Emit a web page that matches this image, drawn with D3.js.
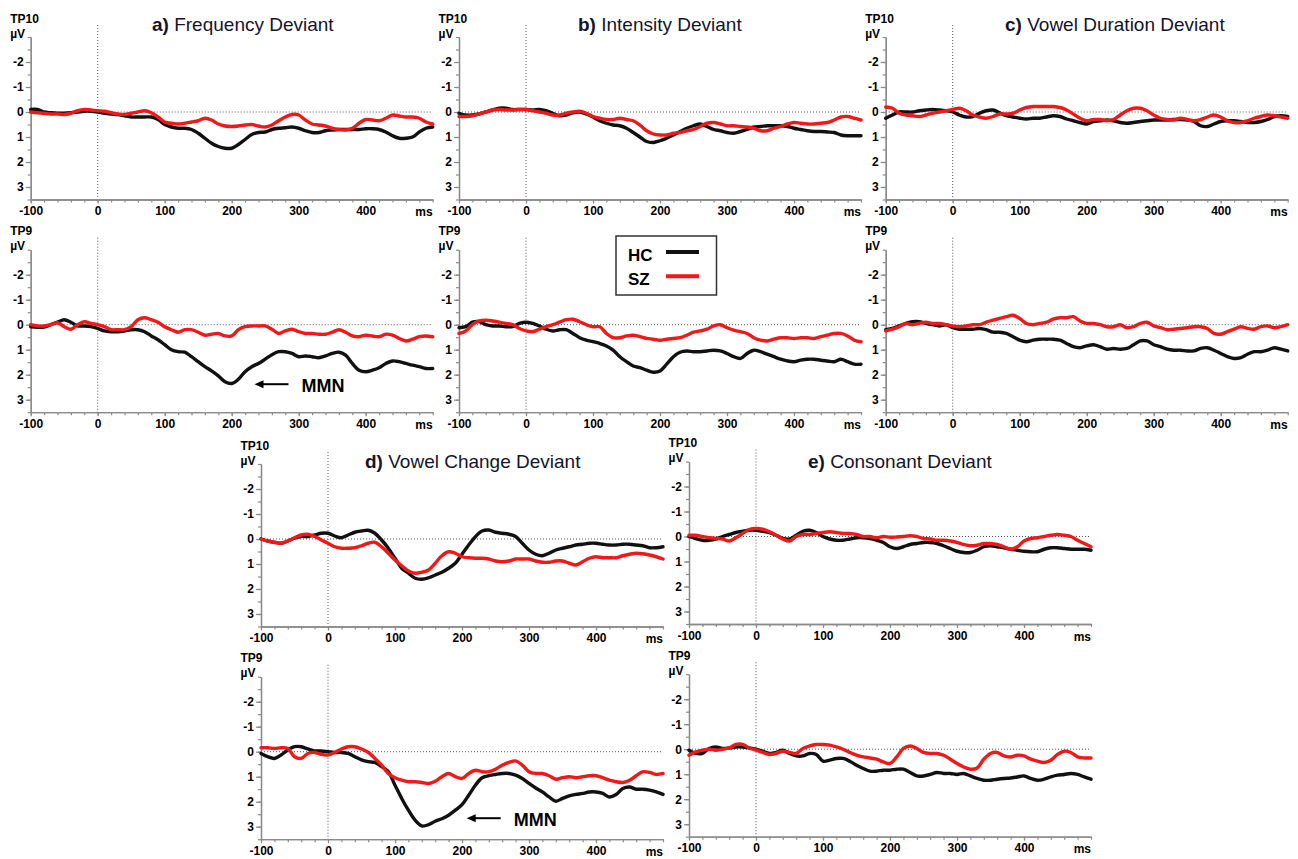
<!DOCTYPE html>
<html>
<head>
<meta charset="utf-8">
<script src="https://cdn.jsdelivr.net/npm/d3@7"></script>
<style>
    body { margin: 0; background: #fff; }
    svg { display: block; font-family: Arial, "Liberation Sans", sans-serif; }
</style>
</head>
<body>
<svg id="chart" width="1298" height="859"></svg>
<script>
// time points (ms) of every sample
const times = [-100, -90, -80, -70, -60, -50, -40, -30, -20, -10,
    0, 10, 20, 30, 40, 50, 60, 70, 80, 90,
    100, 110, 120, 130, 140, 150, 160, 170, 180, 190,
    200, 210, 220, 230, 240, 250, 260, 270, 280, 290,
    300, 310, 320, 330, 340, 350, 360, 370, 380, 390,
    400, 410, 420, 430, 440, 450, 460, 470, 480, 490, 500];

const xTicks = [-100, 0, 100, 200, 300, 400];
const yTicks = [-2, -1, 0, 1, 2, 3];
const groups = ["HC", "SZ"];
const electrodes = ["TP10", "TP9"];
const conditions = [
    {letter: "a)", name: "Frequency Deviant"},
    {letter: "b)", name: "Intensity Deviant"},
    {letter: "c)", name: "Vowel Duration Deviant"},
    {letter: "d)", name: "Vowel Change Deviant"},
    {letter: "e)", name: "Consonant Deviant"}
];

// a) frequency
const freqTP10HC = [-0.1, -0.1, 0, 0.03, 0.05, 0.05, 0.03, 0, -0.03, -0.03,
    0, 0.05, 0.08, 0.1, 0.15, 0.2, 0.2, 0.2, 0.2, 0.3,
    0.5, 0.6, 0.65, 0.65, 0.7, 0.85, 1.05, 1.25, 1.38, 1.45,
    1.45, 1.3, 1.1, 0.9, 0.82, 0.8, 0.7, 0.65, 0.63, 0.6,
    0.65, 0.75, 0.82, 0.82, 0.75, 0.72, 0.7, 0.7, 0.7, 0.7,
    0.67, 0.67, 0.7, 0.8, 0.95, 1.05, 1.05, 1.0, 0.8, 0.65, 0.6];
const freqTP10SZ = [0, 0.03, 0.05, 0.08, 0.08, 0.1, 0.05, -0.05, -0.1, -0.08,
    -0.05, -0.03, 0.03, 0.08, 0.1, 0.05, 0, -0.05, 0.03, 0.2,
    0.4, 0.45, 0.48, 0.45, 0.4, 0.35, 0.25, 0.32, 0.48, 0.56,
    0.58, 0.56, 0.52, 0.5, 0.56, 0.6, 0.52, 0.35, 0.2, 0.1,
    0.12, 0.32, 0.48, 0.52, 0.56, 0.65, 0.7, 0.72, 0.65, 0.45,
    0.3, 0.32, 0.35, 0.25, 0.12, 0.16, 0.2, 0.2, 0.25, 0.4, 0.48];
const freqTP9HC = [0.08, 0.1, 0.1, 0, -0.1, -0.2, -0.1, 0.05, 0.05, 0.08,
    0.15, 0.25, 0.28, 0.28, 0.25, 0.2, 0.2, 0.28, 0.45, 0.6,
    0.8, 1.0, 1.08, 1.1, 1.28, 1.48, 1.68, 1.85, 2.05, 2.28,
    2.35, 2.18, 1.88, 1.68, 1.55, 1.38, 1.2, 1.08, 1.08, 1.15,
    1.28, 1.25, 1.28, 1.32, 1.25, 1.15, 1.1, 1.22, 1.55, 1.82,
    1.88, 1.82, 1.72, 1.55, 1.45, 1.48, 1.55, 1.62, 1.68, 1.75, 1.75];
const freqTP9SZ = [0, 0.05, 0.05, 0, -0.08, 0.08, 0.18, 0, -0.12, -0.05,
    0, 0.08, 0.2, 0.2, 0.2, 0.08, -0.2, -0.28, -0.2, -0.1,
    0.08, 0.2, 0.3, 0.2, 0.2, 0.3, 0.42, 0.38, 0.35, 0.45,
    0.45, 0.2, 0.08, 0.05, 0.05, 0.05, 0.18, 0.35, 0.25, 0.18,
    0.28, 0.35, 0.35, 0.38, 0.38, 0.3, 0.2, 0.3, 0.45, 0.48,
    0.42, 0.45, 0.48, 0.38, 0.42, 0.55, 0.65, 0.58, 0.48, 0.45, 0.48];

// b) intensity
const intTP10HC = [0.05, 0.12, 0.12, 0.08, 0, -0.08, -0.15, -0.15, -0.1, -0.1,
    -0.1, -0.08, -0.1, -0.05, 0.05, 0.15, 0.12, 0.03, 0, 0.08,
    0.2, 0.35, 0.45, 0.52, 0.55, 0.65, 0.82, 1.0, 1.18, 1.22,
    1.15, 1.05, 0.92, 0.78, 0.65, 0.55, 0.48, 0.58, 0.7, 0.75,
    0.82, 0.85, 0.78, 0.7, 0.6, 0.58, 0.55, 0.55, 0.55, 0.58,
    0.65, 0.7, 0.75, 0.78, 0.78, 0.8, 0.82, 0.92, 0.95, 0.95, 0.95];
const intTP10SZ = [0.18, 0.18, 0.15, 0.08, 0, -0.08, -0.1, -0.08, -0.08, -0.1,
    -0.1, -0.05, 0, 0.05, 0.12, 0.12, 0.05, 0, -0.03, 0.05,
    0.18, 0.25, 0.3, 0.3, 0.25, 0.3, 0.35, 0.52, 0.75, 0.88,
    0.92, 0.92, 0.85, 0.82, 0.75, 0.7, 0.58, 0.45, 0.42, 0.48,
    0.55, 0.55, 0.58, 0.6, 0.65, 0.75, 0.75, 0.65, 0.58, 0.48,
    0.42, 0.45, 0.48, 0.48, 0.45, 0.42, 0.32, 0.2, 0.18, 0.25, 0.32];
const intTP9HC = [0.12, 0.08, -0.1, -0.12, 0, 0.05, 0.05, 0.08, 0.08, -0.05,
    -0.1, -0.05, 0.05, 0.18, 0.25, 0.2, 0.2, 0.35, 0.52, 0.62,
    0.68, 0.75, 0.85, 1.02, 1.28, 1.48, 1.65, 1.72, 1.82, 1.9,
    1.85, 1.58, 1.28, 1.1, 1.05, 1.08, 1.08, 1.05, 1.02, 1.05,
    1.15, 1.28, 1.35, 1.15, 1.02, 1.08, 1.18, 1.28, 1.38, 1.45,
    1.48, 1.42, 1.38, 1.38, 1.42, 1.45, 1.48, 1.38, 1.48, 1.58, 1.58];
const intTP9SZ = [0.35, 0.25, 0, -0.15, -0.18, -0.15, -0.1, -0.05, 0, 0.15,
    0.25, 0.28, 0.18, 0.08, 0, -0.1, -0.2, -0.22, -0.12, 0,
    0.08, 0.08, 0.35, 0.52, 0.52, 0.45, 0.42, 0.48, 0.55, 0.58,
    0.62, 0.58, 0.55, 0.52, 0.42, 0.3, 0.25, 0.18, 0.05, 0,
    0.12, 0.22, 0.28, 0.35, 0.52, 0.62, 0.65, 0.58, 0.52, 0.52,
    0.55, 0.52, 0.52, 0.55, 0.48, 0.42, 0.35, 0.35, 0.45, 0.62, 0.68];

// c) vowel duration
const durTP10HC = [0.25, 0.12, 0, 0, 0, -0.05, -0.08, -0.1, -0.08, -0.05,
    0, 0.12, 0.2, 0.18, 0.05, -0.05, -0.08, 0.03, 0.15, 0.2,
    0.25, 0.28, 0.25, 0.25, 0.2, 0.15, 0.18, 0.28, 0.35, 0.42,
    0.48, 0.38, 0.35, 0.32, 0.35, 0.42, 0.45, 0.42, 0.38, 0.35,
    0.32, 0.32, 0.32, 0.3, 0.3, 0.32, 0.38, 0.55, 0.58, 0.48,
    0.38, 0.35, 0.35, 0.38, 0.42, 0.42, 0.38, 0.3, 0.18, 0.15, 0.18];
const durTP10SZ = [-0.2, -0.15, 0.05, 0.12, 0.15, 0.18, 0.12, 0.05, 0, -0.05,
    -0.1, -0.15, -0.05, 0.12, 0.2, 0.25, 0.18, 0.08, 0.08, 0.05,
    -0.08, -0.18, -0.22, -0.22, -0.22, -0.22, -0.18, -0.08, 0.08, 0.25,
    0.35, 0.3, 0.3, 0.35, 0.3, 0.12, -0.05, -0.15, -0.15, -0.05,
    0.12, 0.25, 0.3, 0.32, 0.25, 0.3, 0.35, 0.3, 0.2, 0.12,
    0.2, 0.35, 0.42, 0.42, 0.35, 0.25, 0.18, 0.12, 0.15, 0.2, 0.25];
const durTP9HC = [0.2, 0.15, 0.05, -0.05, -0.12, -0.12, -0.05, 0, 0.05, 0,
    0.12, 0.18, 0.18, 0.18, 0.15, 0.2, 0.3, 0.3, 0.35, 0.48,
    0.62, 0.68, 0.62, 0.58, 0.58, 0.58, 0.62, 0.75, 0.88, 0.92,
    0.85, 0.8, 0.88, 0.98, 0.95, 0.98, 0.95, 0.8, 0.65, 0.65,
    0.8, 0.88, 0.98, 1.02, 1.02, 1.05, 1.05, 0.95, 0.92, 1.02,
    1.15, 1.28, 1.35, 1.32, 1.18, 1.08, 1.08, 1.02, 0.92, 0.98, 1.05];
const durTP9SZ = [0.25, 0.18, 0.08, -0.05, 0, -0.05, -0.1, -0.05, -0.05, 0,
    0.05, 0.08, 0.05, 0, 0, -0.1, -0.18, -0.25, -0.32, -0.38,
    -0.25, -0.05, 0, -0.05, -0.1, -0.22, -0.28, -0.28, -0.32, -0.15,
    -0.05, -0.05, 0, 0.08, 0.08, 0, 0.12, 0.08, -0.05, -0.1,
    0.05, 0.12, 0.2, 0.18, 0.15, 0.12, 0.08, 0.08, 0.15, 0.35,
    0.38, 0.28, 0.18, 0.08, 0.15, 0.18, 0.08, 0.05, 0.12, 0.08, 0];

// d) vowel change
const vowTP10HC = [0, 0.08, 0.13, 0.17, 0.08, -0.03, -0.1, -0.1, -0.16, -0.23,
    -0.23, -0.12, -0.05, -0.16, -0.27, -0.32, -0.35, -0.23, 0.04, 0.37,
    0.77, 1.17, 1.37, 1.57, 1.61, 1.55, 1.44, 1.33, 1.17, 0.97,
    0.61, 0.24, -0.09, -0.32, -0.36, -0.27, -0.23, -0.19, -0.1, 0.17,
    0.44, 0.61, 0.67, 0.57, 0.44, 0.37, 0.31, 0.24, 0.21, 0.17,
    0.17, 0.21, 0.24, 0.24, 0.21, 0.21, 0.24, 0.27, 0.35, 0.35, 0.31];
const vowTP10SZ = [0, 0.08, 0.13, 0.17, 0.08, -0.05, -0.16, -0.19, -0.1, 0.04,
    0.17, 0.31, 0.37, 0.37, 0.35, 0.27, 0.17, 0.13, 0.31, 0.57,
    0.84, 1.07, 1.28, 1.37, 1.33, 1.24, 0.97, 0.67, 0.51, 0.57,
    0.71, 0.75, 0.77, 0.77, 0.8, 0.88, 0.91, 0.88, 0.8, 0.8,
    0.8, 0.88, 0.93, 0.93, 0.88, 0.88, 0.97, 1.04, 0.91, 0.77,
    0.71, 0.75, 0.75, 0.75, 0.67, 0.61, 0.57, 0.59, 0.64, 0.71, 0.8];
const vowTP9HC = [0.07, 0.2, 0.27, 0.13, -0.07, -0.2, -0.2, -0.11, -0.03, -0.03,
    0, 0.03, 0.03, 0.07, 0.2, 0.33, 0.4, 0.43, 0.6, 0.8,
    1.34, 1.87, 2.34, 2.74, 2.97, 2.92, 2.78, 2.68, 2.54, 2.34,
    2.12, 1.74, 1.34, 1.04, 0.96, 0.91, 0.87, 0.87, 0.94, 1.07,
    1.27, 1.45, 1.61, 1.81, 1.98, 1.87, 1.77, 1.71, 1.67, 1.61,
    1.61, 1.67, 1.81, 1.71, 1.47, 1.41, 1.5, 1.5, 1.54, 1.61, 1.71];
const vowTP9SZ = [-0.16, -0.16, -0.13, -0.16, -0.13, 0.2, 0.27, 0.07, 0.03, 0.11,
    0.13, 0.03, -0.11, -0.2, -0.2, -0.11, 0.03, 0.27, 0.54, 0.87,
    1.04, 1.14, 1.2, 1.2, 1.23, 1.27, 1.18, 1.0, 0.87, 1.0,
    1.07, 0.87, 0.74, 0.8, 0.8, 0.7, 0.54, 0.43, 0.37, 0.54,
    0.8, 0.87, 0.87, 0.96, 1.1, 1.04, 1.0, 1.04, 1.0, 0.96,
    0.96, 1.04, 1.14, 1.2, 1.23, 1.14, 0.96, 0.8, 0.83, 0.91, 0.87];

// e) consonant
const consTP10HC = [0, 0.08, 0.15, 0.15, 0.1, 0, -0.08, -0.16, -0.21, -0.25,
    -0.25, -0.21, -0.16, -0.05, 0.08, 0.1, -0.05, -0.21, -0.25, -0.16,
    0, 0.1, 0.15, 0.15, 0.1, 0.05, 0.05, 0.08, 0.15, 0.24,
    0.41, 0.48, 0.41, 0.32, 0.28, 0.24, 0.24, 0.28, 0.37, 0.48,
    0.59, 0.64, 0.64, 0.55, 0.41, 0.37, 0.41, 0.45, 0.51, 0.55,
    0.59, 0.61, 0.61, 0.51, 0.45, 0.45, 0.48, 0.51, 0.51, 0.51, 0.55];
const consTP10SZ = [-0.05, -0.05, 0, 0.05, 0.08, 0.1, 0.18, 0.05, -0.12, -0.28,
    -0.32, -0.29, -0.19, -0.05, 0.1, 0.18, 0, -0.08, -0.08, -0.12,
    -0.16, -0.19, -0.16, -0.12, -0.12, -0.08, 0, 0, 0.05, 0,
    0.03, 0.02, 0, -0.03, 0, 0.08, 0.1, 0.15, 0.15, 0.18,
    0.24, 0.32, 0.37, 0.35, 0.28, 0.28, 0.32, 0.41, 0.51, 0.41,
    0.18, 0.08, 0.05, 0, -0.05, -0.08, -0.05, 0, 0.15, 0.28, 0.41];
const consTP9HC = [0.04, 0.17, 0.17, -0.03, -0.09, -0.03, -0.05, -0.09, -0.09, -0.05,
    0, 0.08, 0.17, 0.13, 0.04, 0.17, 0.27, 0.27, 0.17, 0.21,
    0.48, 0.44, 0.37, 0.37, 0.48, 0.64, 0.77, 0.88, 0.88, 0.84,
    0.84, 0.8, 0.8, 0.93, 1.07, 1.07, 1.01, 0.93, 0.97, 0.97,
    1.01, 0.97, 1.07, 1.17, 1.24, 1.24, 1.2, 1.17, 1.15, 1.11,
    1.07, 1.17, 1.24, 1.2, 1.11, 1.04, 1.01, 0.97, 1.01, 1.11, 1.2];
const consTP9SZ = [0.24, 0.11, 0.04, 0, 0.04, 0, -0.05, -0.19, -0.19, -0.05,
    0.04, 0.13, 0.21, 0.17, 0.08, 0.13, 0.17, -0.03, -0.13, -0.19,
    -0.19, -0.16, -0.09, 0, 0.13, 0.24, 0.31, 0.35, 0.4, 0.51,
    0.57, 0.31, -0.03, -0.13, -0.03, 0.13, 0.17, 0.17, 0.24, 0.4,
    0.57, 0.71, 0.8, 0.75, 0.4, 0.17, 0.13, 0.27, 0.31, 0.24,
    0.27, 0.4, 0.48, 0.53, 0.44, 0.21, 0.08, 0.13, 0.31, 0.35, 0.35];

// condition -> electrode -> [HC, SZ]
const series = [
    [[freqTP10HC, freqTP10SZ], [freqTP9HC, freqTP9SZ]],
    [[intTP10HC, intTP10SZ], [intTP9HC, intTP9SZ]],
    [[durTP10HC, durTP10SZ], [durTP9HC, durTP9SZ]],
    [[vowTP10HC, vowTP10SZ], [vowTP9HC, vowTP9SZ]],
    [[consTP10HC, consTP10SZ], [consTP9HC, consTP9SZ]]
];

// MMN arrows: condition, electrode, where the arrow tip points (ms, uV)
const mmnNotes = [
    {cond: 0, elec: 1, ms: 234, uv: 2.38},
    {cond: 3, elec: 1, ms: 207, uv: 2.66}
];

const colors = {HC: "#111", SZ: "#f01818"};

// placement of each condition block: left of y axis, top of TP10 plot, title start
const layout = [
    {x: 30.7, y: 37, tx: 152, ty: 31},
    {x: 459, y: 37, tx: 578, ty: 31},
    {x: 885.7, y: 37, tx: 1005, ty: 31},
    {x: 261, y: 464, tx: 365, ty: 468},
    {x: 689, y: 461.5, tx: 808, ty: 468}
];
const rowGap = 212.7;
const plotW = 402, plotH = 162.5;

const svg = d3.select("#chart");
const axisGray = "#8a8a8a";

function styleAxis(g) {
    g.selectAll(".domain").attr("stroke", axisGray).attr("stroke-width", 1.3);
    g.selectAll(".tick line").attr("stroke", axisGray).attr("stroke-width", 1.2);
    g.selectAll(".tick text")
        .attr("fill", "#000")
        .style("font-size", "12px")
        .style("font-weight", "bold");
}

// plain hyphen minus, no decimals
const plainNum = d => String(d);

function drawPanel(ci, ei) {
    let spot = layout[ci];
    let px = spot.x, py = spot.y + ei * rowGap;

    let g = svg.append("g").attr("transform", "translate(" + px + "," + py + ")");

    let x = d3.scaleLinear().domain([-100, 500]).range([0, plotW]);
    let y = d3.scaleLinear().domain([-3, 3.5]).range([0, plotH]);

    // dotted reference lines
    g.append("line")
        .attr("x1", x(-100)).attr("x2", x(500))
        .attr("y1", y(0)).attr("y2", y(0))
        .attr("stroke", "#555").attr("stroke-width", 1)
        .attr("stroke-dasharray", "1,2");
    g.append("line")
        .attr("x1", x(0)).attr("x2", x(0))
        .attr("y1", y(-3) - 12).attr("y2", y(3.5))
        .attr("stroke", "#555").attr("stroke-width", 1)
        .attr("stroke-dasharray", "1,2");

    // x axis, minor ticks every 20 ms
    g.append("g")
        .attr("transform", "translate(0," + plotH + ")")
        .call(d3.axisBottom(x).tickValues(d3.range(-100, 501, 20)).tickSize(3).tickFormat("").tickSizeOuter(0))
        .call(styleAxis);
    g.append("g")
        .attr("transform", "translate(0," + plotH + ")")
        .call(d3.axisBottom(x).tickValues(xTicks).tickSize(4).tickPadding(3).tickSizeOuter(0).tickFormat(plainNum))
        .call(styleAxis);
    g.append("text")
        .attr("x", x(500)).attr("y", plotH + 16.5)
        .attr("text-anchor", "end")
        .style("font-size", "12px").style("font-weight", "bold")
        .text("ms");

    // y axis, minor ticks every 0.5 uV
    g.append("g")
        .call(d3.axisLeft(y).tickValues(d3.range(-3, 3.51, 0.5)).tickSize(3).tickFormat("").tickSizeOuter(0))
        .call(styleAxis);
    g.append("g")
        .call(d3.axisLeft(y).tickValues(yTicks).tickSize(5).tickPadding(2).tickSizeOuter(0).tickFormat(plainNum))
        .call(styleAxis);

    g.append("text")
        .attr("x", -20.5).attr("y", y(-3) + 0.5)
        .style("font-size", "12px").style("font-weight", "bold")
        .text("µV");
    g.append("text")
        .attr("x", -20.5).attr("y", y(-3) - 14.5)
        .style("font-size", "12px").style("font-weight", "bold")
        .text(electrodes[ei]);

    // waveforms
    let line = d3.line()
        .x((d, i) => x(times[i]))
        .y(d => y(d))
        .curve(d3.curveCatmullRom.alpha(0.5));

    groups.forEach((grp, gi) => {
        g.append("path")
            .datum(series[ci][ei][gi])
            .attr("fill", "none")
            .attr("stroke", colors[grp])
            .attr("stroke-width", 3.4)
            .attr("stroke-linejoin", "round")
            .attr("stroke-linecap", "round")
            .attr("d", line);
    });

    // MMN arrow
    mmnNotes.filter(n => n.cond == ci && n.elec == ei).forEach(n => {
        let ax = x(n.ms), ay = y(n.uv);
        g.append("line")
            .attr("x1", ax + 6).attr("x2", ax + 34)
            .attr("y1", ay).attr("y2", ay)
            .attr("stroke", "#000").attr("stroke-width", 2);
        g.append("path")
            .attr("d", "M" + ax + "," + ay + "L" + (ax + 9) + "," + (ay - 4) + "L" + (ax + 9) + "," + (ay + 4) + "Z")
            .attr("fill", "#000");
        g.append("text")
            .attr("x", ax + 47).attr("y", ay + 7.5)
            .style("font-size", "18px").style("font-weight", "bold")
            .text("MMN");
    });
}

conditions.forEach((c, ci) => {
    electrodes.forEach((e, ei) => drawPanel(ci, ei));

    let t = svg.append("text")
        .attr("x", layout[ci].tx).attr("y", layout[ci].ty)
        .attr("fill", "#14142a")
        .style("font-size", "19px");
    t.append("tspan").style("font-weight", "bold").text(c.letter);
    t.append("tspan").text(" " + c.name);
});

// legend
let legend = svg.append("g").attr("transform", "translate(616,236)");
legend.append("rect")
    .attr("width", 100.5).attr("height", 59)
    .attr("fill", "#fff")
    .attr("stroke", "#333").attr("stroke-width", 1.5);
groups.forEach((grp, gi) => {
    legend.append("text")
        .attr("x", 12).attr("y", 25 + gi * 23.5)
        .style("font-size", "17px").style("font-weight", "bold")
        .text(grp);
    legend.append("line")
        .attr("x1", 50).attr("x2", 83)
        .attr("y1", 16 + gi * 24.3).attr("y2", 16 + gi * 24.3)
        .attr("stroke", colors[grp]).attr("stroke-width", 4);
});
</script>
</body>
</html>
